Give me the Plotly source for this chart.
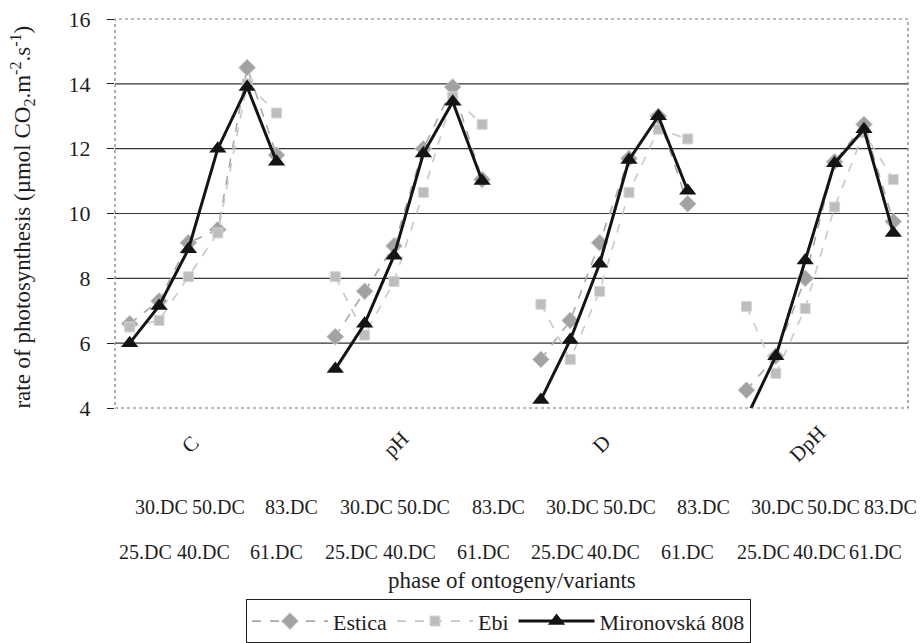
import plotly.graph_objects as go

# Variants (treatments) and ontogeny phases
variants = ["C", "pH", "D", "DpH"]
phases = ["25.DC", "30.DC", "40.DC", "50.DC", "61.DC", "83.DC"]

# Rate of photosynthesis (µmol CO2.m-2.s-1), one list per variant, ordered by phase
estica = {
    "C":   [6.6, 7.3, 9.1, 9.5, 14.5, 11.8],
    "pH":  [6.2, 7.6, 9.0, 12.0, 13.9, 11.05],
    "D":   [5.5, 6.7, 9.1, 11.7, 13.0, 10.3],
    "DpH": [4.55, 5.6, 8.0, 11.6, 12.75, 9.75],
}
ebi = {
    "C":   [6.5, 6.7, 8.05, 9.4, 14.0, 13.1],
    "pH":  [8.05, 6.25, 7.9, 10.65, 13.6, 12.75],
    "D":   [7.2, 5.5, 7.6, 10.65, 12.6, 12.3],
    "DpH": [7.13, 5.07, 7.07, 10.2, 12.5, 11.05],
}
mironovska = {
    "C":   [6.0, 7.15, 8.9, 12.0, 13.9, 11.6],
    "pH":  [5.2, 6.6, 8.7, 11.85, 13.45, 11.0],
    "D":   [4.25, 6.1, 8.45, 11.65, 13.0, 10.7],
    "DpH": [3.7, 5.6, 8.55, 11.55, 12.6, 9.4],
}

y_ticks = [4, 6, 8, 10, 12, 14, 16]
SLOTS_PER_GROUP = 7  # six phases plus one empty slot between variants

FONT = "Times New Roman, Tinos, Liberation Serif, DejaVu Serif, Noto Serif, serif"
TXT = "#1e1e1e"


def series_xy(values):
    """Flatten a per-variant dict into x/y lists, breaking the line between variants."""
    xs, ys = [], []
    for g, v in enumerate(variants):
        for p, val in enumerate(values[v]):
            xs.append(g * SLOTS_PER_GROUP + p)
            ys.append(val)
        xs.append(None)
        ys.append(None)
    return xs, ys


fig = go.Figure()

x, y = series_xy(estica)
fig.add_trace(go.Scatter(
    x=x, y=y, name="Estica", mode="lines+markers", connectgaps=False,
    line=dict(color="#a8a8a8", width=1.6, dash="dash"),
    marker=dict(symbol="diamond", size=13, color="#a2a2a2",
                line=dict(color="#cfcfcf", width=1)),
))

x, y = series_xy(ebi)
fig.add_trace(go.Scatter(
    x=x, y=y, name="Ebi", mode="lines+markers", connectgaps=False,
    line=dict(color="#c8c8c8", width=1.6, dash="dash"),
    marker=dict(symbol="square", size=10, color="#bdbdbd",
                line=dict(color="#d6d6d6", width=1)),
))

x, y = series_xy(mironovska)
fig.add_trace(go.Scatter(
    x=x, y=y, name="Mironovská 808", mode="lines+markers", connectgaps=False,
    line=dict(color="#141414", width=3),
    marker=dict(symbol="triangle-up", size=15, color="#141414"),
))

shapes = []
# horizontal gridlines (inner ticks only; the frame covers 4 and 16)
for v in y_ticks[1:-1]:
    shapes.append(dict(type="line", xref="paper", yref="y", x0=0, x1=1, y0=v, y1=v,
                       line=dict(color="#333333", width=1.2), layer="below"))
# dotted plot-area frame
shapes.append(dict(type="rect", xref="paper", yref="paper", x0=0, x1=1, y0=0, y1=1,
                   line=dict(color="#7a7a7a", width=1.2, dash="dot"), layer="above"))

annotations = []
# rotated variant labels
group_label_offset = 2.07
for g, v in enumerate(variants):
    annotations.append(dict(
        x=g * SLOTS_PER_GROUP + group_label_offset, y=-0.092, xref="x", yref="paper",
        text=v, textangle=-45, showarrow=False, xanchor="center", yanchor="middle",
        font=dict(family=FONT, size=21, color=TXT),
    ))

# two staggered rows of phase labels under each variant
row_upper = [phases[1], phases[3], phases[5]]
row_lower = [phases[0], phases[2], phases[4]]
upper_pos = [[1.1, 3.04, 5.52], [1.07, 3.01, 5.56], [1.08, 3.02, 5.53], [1.05, 2.96, 4.9]]
lower_pos = [[0.55, 2.53, 5.01], [0.56, 2.53, 5.05], [0.57, 2.47, 5.0], [0.58, 2.48, 4.4]]
for g in range(len(variants)):
    for lab, off in zip(row_upper, upper_pos[g]):
        annotations.append(dict(
            x=g * SLOTS_PER_GROUP + off, y=-0.254, xref="x", yref="paper", text=lab,
            showarrow=False, xanchor="center", yanchor="middle",
            font=dict(family=FONT, size=20, color=TXT),
        ))
    for lab, off in zip(row_lower, lower_pos[g]):
        annotations.append(dict(
            x=g * SLOTS_PER_GROUP + off, y=-0.370, xref="x", yref="paper", text=lab,
            showarrow=False, xanchor="center", yanchor="middle",
            font=dict(family=FONT, size=20, color=TXT),
        ))

# axis titles
annotations.append(dict(
    x=0.5, y=-0.443, xref="paper", yref="paper", text="phase of ontogeny/variants",
    showarrow=False, xanchor="center", yanchor="middle",
    font=dict(family=FONT, size=23, color=TXT),
))
annotations.append(dict(
    x=-0.117, y=0.49, xref="paper", yref="paper",
    text="rate of photosynthesis (µmol CO<sub>2</sub>.m<sup>-2</sup>.s<sup>-1</sup>)",
    textangle=-90, showarrow=False, xanchor="center", yanchor="middle",
    font=dict(family=FONT, size=23, color=TXT),
))

fig.update_layout(
    width=923, height=643,
    margin=dict(l=115, r=15, t=19, b=235, autoexpand=False),
    paper_bgcolor="white", plot_bgcolor="white",
    font=dict(family=FONT, color=TXT),
    showlegend=True,
    legend=dict(
        orientation="h", xref="container", yref="container",
        x=0.2665, y=0.068, xanchor="left", yanchor="top",
        bordercolor="#222", borderwidth=1, bgcolor="white",
        font=dict(family=FONT, size=22, color=TXT),
        itemwidth=76, tracegroupgap=0,
    ),
    xaxis=dict(range=[-0.5, 26.5], showgrid=False, zeroline=False, showline=False,
               showticklabels=False, ticks=""),
    yaxis=dict(range=[4, 16], tickvals=y_ticks, showgrid=False, zeroline=False,
               showline=False, ticks="outside", ticklen=7, tickcolor="#222",
               ticklabelstandoff=12,
               tickfont=dict(family=FONT, size=22, color=TXT)),
    shapes=shapes,
    annotations=annotations,
)

fig.write_html("out.html")
